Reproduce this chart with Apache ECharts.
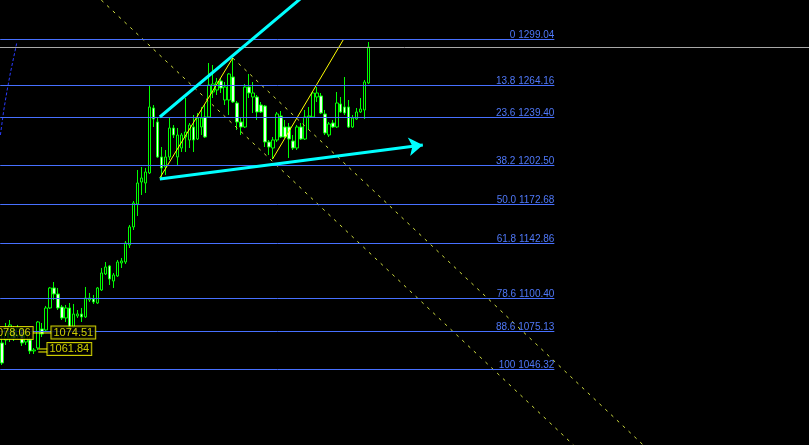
<!DOCTYPE html>
<html><head><meta charset="utf-8">
<script src="https://cdn.jsdelivr.net/npm/echarts@6/dist/echarts.min.js"></script>
<style>html,body{margin:0;padding:0;background:#000;}#c{width:809px;height:445px;}</style>
</head><body><div id="c"></div>
<script>
// ---- candle data (bar order, left to right) ----
const opens=[1066.46,1068.77,1070.30,1076.43,1071.83,1077.19,1067.23,1068.77,1060.35,1062.64,
1077.19,1076.43,1093.28,1108.59,1104.00,1094.05,1085.62,1093.28,1078.72,1087.15,
1088.68,1086.38,1099.40,1100.17,1097.11,1107.06,1119.31,1125.44,1113.95,1117.78,
1127.74,1128.50,1141.52,1155.31,1172.92,1189.76,1189.00,1196.66,1246.43,1235.71,
1208.91,1201.25,1208.91,1231.12,1208.91,1215.80,1224.23,1221.93,1231.88,1222.69,
1231.88,1239.54,1239.54,1258.69,1260.22,1267.11,1252.56,1252.56,1270.17,1250.26,
1235.71,1231.88,1262.52,1254.86,1254.86,1248.73,1247.96,1220.40,1215.80,1221.93,
1240.31,1231.88,1231.88,1221.16,1215.80,1231.88,1222.69,1239.54,1239.54,1254.86,
1255.62,1241.84,1225.76,1234.95,1231.88,1249.50,1247.20,1247.20,1231.88,1238.01,
1243.37,1244.90,1265.58];
const closes=[1051.14,1078.72,1080.26,1070.30,1077.96,1066.47,1074.13,1060.35,1061.11,1082.55,
1073.36,1093.28,1108.59,1104.00,1093.28,1085.62,1093.28,1077.96,1088.68,1088.68,
1086.38,1100.93,1100.93,1097.87,1108.59,1120.08,1124.68,1115.48,1118.55,1128.50,
1129.27,1143.06,1155.31,1173.69,1189.00,1192.83,1197.42,1247.20,1238.01,1208.91,
1200.49,1208.91,1231.12,1225.76,1225.76,1225.76,1228.05,1233.41,1221.93,1238.77,
1238.77,1224.23,1264.05,1264.81,1266.35,1261.75,1262.52,1272.47,1251.03,1235.71,
1231.88,1262.52,1257.92,1257.92,1243.37,1243.37,1220.40,1216.57,1221.93,1241.84,
1224.23,1224.23,1222.69,1215.80,1231.88,1222.69,1239.54,1240.31,1257.92,1257.92,
1242.60,1227.29,1234.18,1231.88,1250.26,1243.37,1242.60,1231.88,1238.77,1243.37,
1245.67,1266.35,1293.15];
const lows=[1049.62,1064.94,1067.23,1068.00,1069.53,1064.17,1064.94,1058.04,1058.04,1061.11,
1071.07,1075.66,1092.51,1099.40,1091.74,1084.08,1082.55,1076.43,1077.96,1085.62,
1082.55,1085.62,1097.87,1096.34,1096.34,1106.29,1118.55,1110.89,1108.59,1117.02,
1123.91,1126.97,1139.22,1153.01,1163.73,1179.81,1181.34,1195.89,1231.88,1208.14,
1192.83,1195.13,1206.61,1223.46,1202.78,1212.74,1212.74,1215.80,1212.74,1221.93,
1225.76,1223.46,1238.77,1254.09,1256.39,1257.92,1248.73,1241.07,1250.26,1229.59,
1225.76,1231.12,1254.09,1242.60,1237.24,1242.60,1216.57,1210.44,1207.38,1220.40,
1223.46,1223.46,1208.14,1214.27,1214.27,1221.93,1221.93,1229.59,1238.77,1251.03,
1241.84,1225.76,1224.23,1231.12,1231.12,1242.60,1241.07,1231.12,1231.12,1237.24,
1242.60,1238.01,1264.81];
const highs=[1072.59,1081.79,1084.08,1079.49,1080.26,1078.72,1076.43,1071.07,1062.64,1083.32,
1081.79,1094.81,1109.36,1113.18,1108.59,1095.58,1095.58,1097.11,1096.34,1091.74,
1093.28,1109.36,1104.77,1103.23,1109.36,1123.91,1128.50,1126.21,1120.08,1130.04,
1131.57,1144.59,1156.84,1175.21,1198.95,1201.25,1200.49,1264.05,1248.73,1238.77,
1216.57,1214.27,1239.54,1233.41,1231.12,1227.29,1254.09,1234.95,1241.07,1242.60,
1247.20,1248.73,1280.89,1279.36,1269.41,1269.41,1266.35,1273.23,1284.72,1251.79,
1238.77,1264.81,1272.47,1266.35,1256.39,1251.03,1248.73,1221.93,1224.23,1243.37,
1244.13,1237.24,1234.95,1225.76,1233.41,1234.95,1244.90,1247.20,1258.69,1262.52,
1257.92,1244.90,1235.71,1237.24,1258.69,1254.86,1270.17,1252.56,1241.07,1246.43,
1254.09,1267.88,1296.98];

// ---- Fibonacci levels ----
const fibRatios=['0','13.8','23.6','38.2','50.0','61.8','78.6','88.6','100'];
const fibPrices=[1299.04,1264.16,1239.40,1202.50,1172.68,1142.86,1100.40,1075.13,1046.32];
const bidPrice=1292.91;

// ---- drawn objects, as [bar index, price] ----
const fibSpan=[-0.45,138.6];
const upArrow=[[39.6,1239.54],[75.4,1331.44]];
const lowArrow=[[39.6,1192.06],[105.6,1218.10]];
const dashA=[[24.9,1329.14],[143.4,988.36]];
const dashB=[[57.9,1284.72],[160.9,988.36]];
const yellowL1=[[39.6,1192.83],[57.9,1284.72]];
const yellowL2=[[67.9,1207.38],[85.6,1298.51]];
const blueArc=[[-0.4,1225.76],[0.45,1244.90],[1.3,1260.22],[2.1,1273.24],[2.95,1285.49],[3.7,1296.21]];
const tagTexts=['1078.06','1074.51','1061.84'];
const tagPos=[[2.2,1074.13],[17.9,1074.51],[16.9,1061.84]];
const tagLinks=[[[7.6,1074.13],[12.6,1074.13]],[[9.1,1061.88],[11.6,1061.88]],[[9.1,1059.58],[11.6,1059.58]]];

const slotCount=203;
const slots=Array.from({length:slotCount},(_,i)=>i);
const candles=opens.map((o,i)=>[o,closes[i],lows[i],highs[i]]);

const chart=echarts.init(document.getElementById('c'),null,{renderer:'canvas'});
const lineSeries=(data,style,z)=>({type:'line',xAxisIndex:1,yAxisIndex:0,data,symbol:'none',silent:true,clip:true,z,lineStyle:style,animation:false});

const series=[
 {type:'candlestick',xAxisIndex:0,yAxisIndex:0,data:candles,barWidth:3,z:2,silent:true,
  itemStyle:{color:'#000000',color0:'#e8ffe8',borderColor:'#00ff00',borderColor0:'#00ff00',borderWidth:1}},
 {type:'line',xAxisIndex:1,yAxisIndex:0,data:[],symbol:'none',z:3,silent:true,
  markLine:{silent:true,symbol:['none','none'],animation:false,
   lineStyle:{color:'#4770ff',width:1,type:'solid'},
   label:{show:true,position:'insideEndTop',color:'#4f78f8',fontSize:10,fontFamily:'Liberation Sans',distance:[0,-1],formatter:p=>p.name},
   data:fibPrices.map((p,i)=>[{name:fibRatios[i]+' '+p.toFixed(2),coord:[fibSpan[0],p]},{coord:[fibSpan[1],p]}])}},
 {type:'line',xAxisIndex:1,yAxisIndex:0,data:[],symbol:'none',z:3,silent:true,
  markLine:{silent:true,symbol:['none','none'],animation:false,label:{show:false},
   lineStyle:{color:'#a8a8a8',width:1,type:'solid'},data:[{yAxis:bidPrice}]}},
 lineSeries(dashA,{color:'#d2e040',width:1,type:[3,5]},3),
 lineSeries(dashB,{color:'#d2e040',width:1,type:[3,5]},3),
 lineSeries(blueArc,{color:'#2a3cff',width:1,type:[3,2]},3),
 lineSeries(yellowL1,{color:'#ffff00',width:1},4),
 lineSeries(yellowL2,{color:'#ffff00',width:1},4),
 ...tagLinks.map(l=>lineSeries(l,{color:'#ffff00',width:1},4)),
 lineSeries(upArrow,{color:'#00ffff',width:3},5),
 {type:'line',xAxisIndex:1,yAxisIndex:0,data:[],symbol:'none',z:5,silent:true,
  markLine:{silent:true,symbol:['none','arrow'],symbolSize:14,animation:false,label:{show:false},
   lineStyle:{color:'#00ffff',width:3,type:'solid'},
   data:[[{coord:lowArrow[0]},{coord:lowArrow[1]}]]}},
 {type:'scatter',xAxisIndex:1,yAxisIndex:0,z:6,silent:true,symbolSize:0,
  data:tagPos.map((p,i)=>({value:p,name:tagTexts[i]})),
  label:{show:true,position:'inside',formatter:p=>p.name,color:'#ffff00',fontSize:11,fontFamily:'Liberation Sans',
   backgroundColor:'#000',borderColor:'#ffff00',borderWidth:1,padding:[1,2,0,2],lineHeight:11}}
];

chart.setOption({
 backgroundColor:'#000000',
 animation:false,
 grid:{left:-0.5,right:-2.5,top:0,bottom:0,containLabel:false},
 xAxis:[
  {type:'category',data:slots,boundaryGap:true,show:false},
  {type:'value',min:-0.5,max:slotCount-0.5,show:false,splitLine:{show:false}}
 ],
 yAxis:[{type:'value',min:988.34,max:1329.14,show:false,scale:true,splitLine:{show:false}}],
 series
});
</script>
</body></html>
